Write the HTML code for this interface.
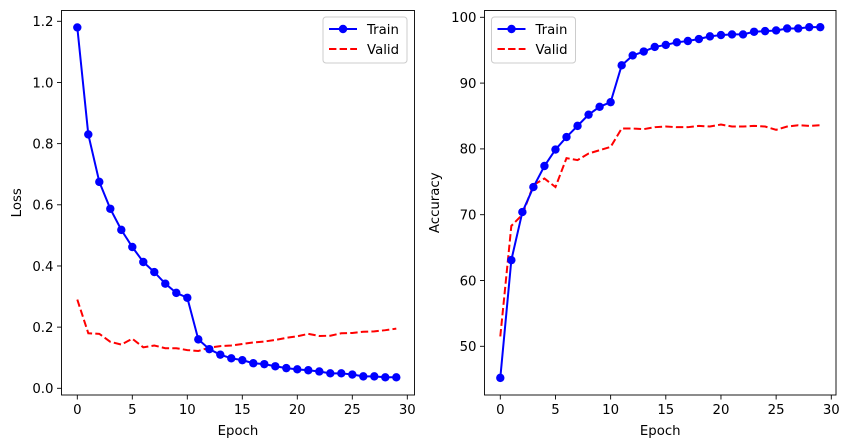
<!DOCTYPE html>
<html><head><meta charset="utf-8"><style>
html,body{margin:0;padding:0;background:#fff;}
svg{display:block;font-family:"DejaVu Sans","Liberation Sans",sans-serif;}
</style></head><body>
<svg id="c" width="850" height="448" viewBox="0 0 850 448"></svg>
<script>
const epochs = Array.from({length:30},(_,i)=>i);
const lossTrain = [1.18,0.83,0.675,0.587,0.518,0.462,0.413,0.38,0.342,0.312,0.296,0.16,0.128,0.11,0.098,0.092,0.082,0.079,0.072,0.066,0.062,0.059,0.055,0.049,0.049,0.045,0.039,0.039,0.036,0.036];
const lossValid = [0.29,0.18,0.178,0.152,0.143,0.162,0.134,0.14,0.131,0.131,0.125,0.122,0.133,0.138,0.14,0.145,0.15,0.153,0.158,0.165,0.17,0.178,0.171,0.172,0.18,0.181,0.185,0.186,0.19,0.195];
const accTrain = [45.2,63.1,70.4,74.2,77.4,79.9,81.8,83.5,85.2,86.4,87.1,92.7,94.2,94.8,95.5,95.8,96.2,96.4,96.7,97.1,97.3,97.4,97.4,97.8,97.9,98.0,98.3,98.3,98.5,98.5];
const accValid = [51.5,68.3,70.0,74.5,75.5,74.2,78.6,78.3,79.3,79.8,80.3,83.1,83.1,83.0,83.3,83.4,83.3,83.3,83.5,83.4,83.7,83.4,83.4,83.5,83.4,82.9,83.4,83.6,83.5,83.6];
const xTicks = [0,5,10,15,20,25,30];
const lossTicks = [0.0,0.2,0.4,0.6,0.8,1.0,1.2];
const accTicks = [50,60,70,80,90,100];

const NS="http://www.w3.org/2000/svg";
const svg=document.getElementById('c');
function mk(tag,attrs,parent){const e=document.createElementNS(NS,tag);for(const k in attrs)e.setAttribute(k,attrs[k]);(parent||svg).appendChild(e);return e;}

function panel(cfg){
  const g=mk('g',{});
  
  
  const sx=v=>cfg.x0px+(v-0)*(cfg.x30px-cfg.x0px)/30;
  const sy=v=>cfg.ya.px+(v-cfg.ya.v)*(cfg.yb.px-cfg.ya.px)/(cfg.yb.v-cfg.ya.v);
  // ticks
  xTicks.forEach(t=>{
    const x=sx(t);
    const l=mk('line',{x1:x,x2:x,y1:cfg.bottom,y2:cfg.bottom+4.5,stroke:'#000','stroke-width':0.9},g);
    
    
    const tx=mk('text',{x:x,y:cfg.bottom+19,'text-anchor':'middle','font-size':13.3,fill:'#000'},g);
    tx.textContent=t;
    
    
  });
  cfg.yTicks.forEach(t=>{
    const y=sy(t);
    const l=mk('line',{x1:cfg.left-4.5,x2:cfg.left,y1:y,y2:y,stroke:'#000','stroke-width':0.9},g);
    
    
    const tx=mk('text',{x:cfg.left-8,y:y+4.8,'text-anchor':'end','font-size':13.3,fill:'#000'},g);
    tx.textContent=cfg.fmt(t);
    
    
  });
  // series
  const vp=cfg.valid.map((v,i)=>sx(epochs[i])+','+sy(v)).join(' ');
  const vl=mk('polyline',{points:vp,fill:'none',stroke:'#ff0000','stroke-width':2,'stroke-dasharray':'7.4,3.2'},g);
  
  
  const tp=cfg.train.map((v,i)=>sx(epochs[i])+','+sy(v)).join(' ');
  const tl=mk('polyline',{points:tp,fill:'none',stroke:'#0000ff','stroke-width':2},g);
  
  
  cfg.train.forEach((v,i)=>{
    const c=mk('circle',{cx:sx(epochs[i]),cy:sy(v),r:4.2,fill:'#0000ff'},g);
    
    
  });
  // frame
  const f=mk('rect',{x:cfg.left,y:cfg.top,width:cfg.right-cfg.left,height:cfg.bottom-cfg.top,fill:'none',stroke:'#000','stroke-width':0.9},g);
  
  
  // labels
  const xl=mk('text',{x:(cfg.left+cfg.right)/2,y:cfg.bottom+40,'text-anchor':'middle','font-size':13.3},g);
  xl.textContent='Epoch';
  
  
  const yl=mk('text',{x:0,y:0,'text-anchor':'middle','font-size':13.3,transform:`translate(${cfg.yLabelX},${(cfg.top+cfg.bottom)/2}) rotate(-90)`},g);
  yl.textContent=cfg.yLabel;
  
  
  // legend
  const lg=mk('g',{},g);
  
  
  const lx=cfg.legX, ly=17;
  mk('rect',{x:lx,y:ly,width:cfg.legW,height:46,rx:3,fill:'#fff','fill-opacity':0.8,stroke:'#ccc','stroke-width':1},lg);
  mk('line',{x1:lx+6,x2:lx+34,y1:ly+12,y2:ly+12,stroke:'#0000ff','stroke-width':2},lg);
  mk('circle',{cx:lx+20,cy:ly+12,r:4.2,fill:'#0000ff'},lg);
  const t1=mk('text',{x:lx+44,y:ly+17,'font-size':13.3},lg);t1.textContent='Train';
  
  
  mk('line',{x1:lx+6,x2:lx+34,y1:ly+32,y2:ly+32,stroke:'#ff0000','stroke-width':2,'stroke-dasharray':'7.4,3.2'},lg);
  const t2=mk('text',{x:lx+44,y:ly+37,'font-size':13.3},lg);t2.textContent='Valid';
  
  
}

panel({name:'loss-chart',left:61.5,right:414.5,top:10.5,bottom:395,x0px:77.3,x30px:407.3,
  ya:{v:0,px:388.3},yb:{v:1.2,px:21.3},yTicks:lossTicks,fmt:t=>t.toFixed(1),
  train:lossTrain,valid:lossValid,yLabel:'Loss',yLabelX:21,legX:323,legW:84});
panel({name:'accuracy-chart',left:484.5,right:836,top:10.5,bottom:395,x0px:500.3,x30px:831.3,
  ya:{v:50,px:346.3},yb:{v:100,px:17.3},yTicks:accTicks,fmt:t=>String(t),
  train:accTrain,valid:accValid,yLabel:'Accuracy',yLabelX:439,legX:491.5,legW:84});
</script>
</body></html>
